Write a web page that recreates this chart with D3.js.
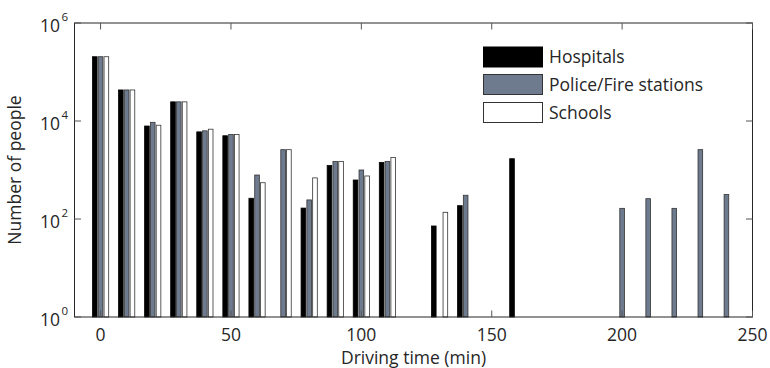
<!DOCTYPE html>
<html><head><meta charset="utf-8">
<script src="https://cdn.jsdelivr.net/npm/d3@7"></script>
<style>body{margin:0;background:#fff}svg{display:block}text{font-family:"Open Sans",sans-serif;fill:#262626}</style>
</head><body><svg id="c" width="770" height="368"></svg>
<script>
const times = [0,10,20,30,40,50,60,70,80,90,100,110,120,130,140,150,160,170,180,190,200,210,220,230,240];
const hospitals = [2.05e5,4.3e4,7.9e3,2.46e4,6.0e3,5.0e3,265,null,167,1230,625,1430,null,72,187,null,1700,null,null,null,null,null,null,null,null];
const police = [2.05e5,4.3e4,9.4e3,2.46e4,6.3e3,5.3e3,790,2600,245,1500,1000,1500,null,null,305,null,null,null,null,null,165,260,165,2600,315];
const schools = [2.05e5,4.3e4,8.2e3,2.46e4,6.8e3,5.3e3,550,2600,690,1500,755,1800,null,137,null,null,null,null,null,null,null,null,null,null,null];
const seriesNames = ["Hospitals","Police/Fire stations","Schools"];
const seriesColors = ["#000000","#6e7a8e","#ffffff"];
const xTicks = [0,50,100,150,200,250];
const yTicks = [1,1e2,1e4,1e6];

const svg = d3.select("#c");
const L=74.5, R=752.5, T=23, B=317;
const x = d3.scaleLinear().domain([-10,250]).range([L,R]);
const y = d3.scaleLog().domain([1,1e6]).range([B,T]);

const series=[hospitals,police,schools];
const gw=10*2/3, slot=gw/3, bw=slot*0.8;
series.forEach((vals,si)=>{
  const off=(si-1)*slot;
  svg.append("g").selectAll("rect").data(times.map((t,i)=>({t,v:vals[i]})).filter(d=>d.v!=null))
    .join("rect")
    .attr("x",d=>x(d.t+off-bw/2))
    .attr("width",d=>x(d.t+off+bw/2)-x(d.t+off-bw/2))
    .attr("y",d=>y(d.v))
    .attr("height",d=>y(1)-y(d.v))
    .attr("fill",seriesColors[si])
    .attr("stroke",si==0?"#000":"#333")
    .attr("stroke-width",0.8);
});

// box
svg.append("rect").attr("x",L).attr("y",T).attr("width",R-L).attr("height",B-T)
  .attr("fill","none").attr("stroke","#262626").attr("stroke-width",1);
const tl=6.5;
const fs=17.5;
// x ticks
const gx=svg.append("g");
xTicks.forEach(t=>{
  const px=x(t);
  gx.append("line").attr("x1",px).attr("x2",px).attr("y1",B).attr("y2",B-tl).attr("stroke","#555");
  gx.append("line").attr("x1",px).attr("x2",px).attr("y1",T).attr("y2",T+tl).attr("stroke","#555");
  gx.append("text").attr("x",px).attr("y",340.5).attr("text-anchor","middle").attr("font-size",fs).text(t);
});
// y ticks
const gy=svg.append("g");
yTicks.forEach(v=>{
  const py=y(v);
  gy.append("line").attr("x1",L).attr("x2",L+tl).attr("y1",py).attr("y2",py).attr("stroke","#555");
  gy.append("line").attr("x1",R).attr("x2",R-tl).attr("y1",py).attr("y2",py).attr("stroke","#555");
  gy.append("text").attr("x",60).attr("y",py+8.5).attr("text-anchor","end").attr("font-size",fs).text("10");
  gy.append("text").attr("x",61.5).attr("y",py-2).attr("font-size",11.5).text(Math.round(Math.log10(v)));
});
// labels
svg.append("text").attr("x",(L+R)/2).attr("y",364).attr("text-anchor","middle").attr("font-size",fs).text("Driving time (min)");
svg.append("text").attr("transform",`translate(21,${(T+B)/2}) rotate(-90)`).attr("text-anchor","middle").attr("font-size",fs).text("Number of people");
// legend
const lg=svg.append("g");
const ly=[47,74.5,102.5];
seriesNames.forEach((n,i)=>{
  lg.append("rect").attr("x",483.5).attr("y",ly[i]).attr("width",59).attr("height",20)
    .attr("fill",seriesColors[i]).attr("stroke",i==0?"#000":"#333").attr("stroke-width",1);
  lg.append("text").attr("x",549).attr("y",ly[i]+16).attr("font-size",fs).text(n);
});
</script></body></html>
